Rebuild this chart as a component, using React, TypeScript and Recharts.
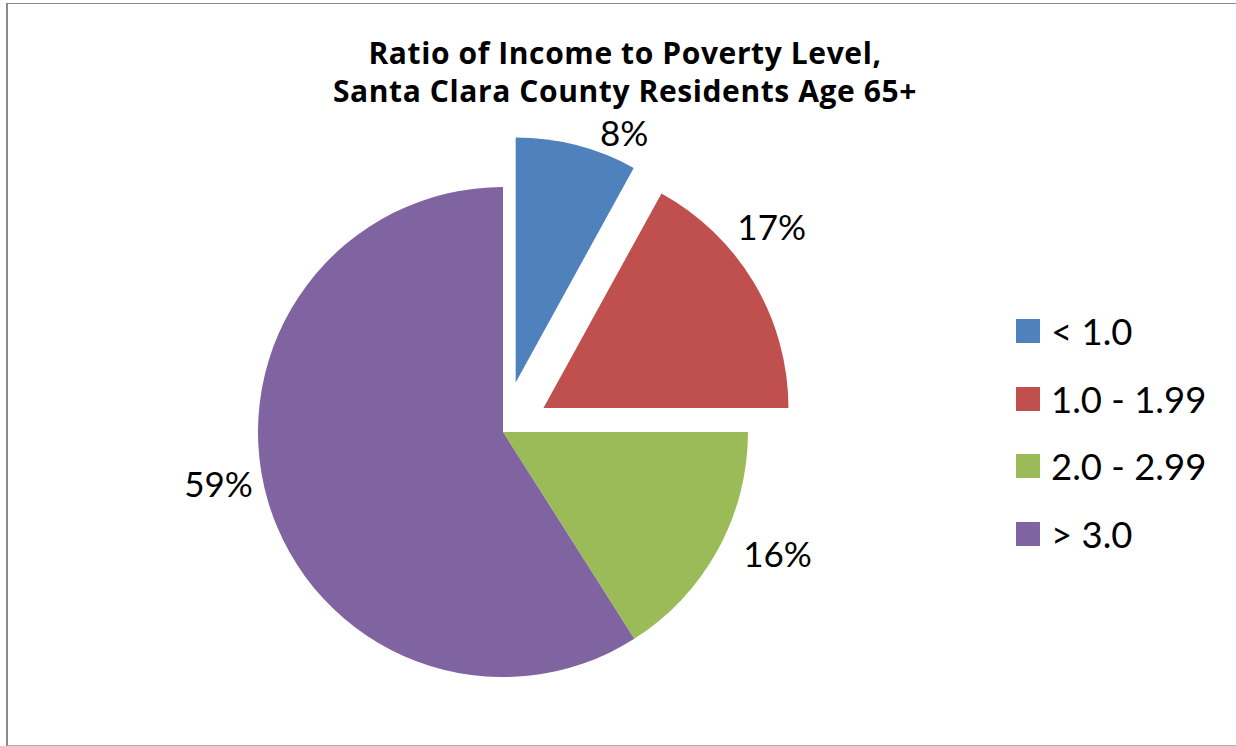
import React from 'react';
import { PieChart, Pie, Cell, Legend, Sector } from 'recharts';

const categories = ['< 1.0', '1.0 - 1.99', '2.0 - 2.99', '> 3.0'];
const shares = [8, 17, 16, 59];
const colors = ['#4F81BD', '#C0504D', '#9BBB59', '#8064A2'];
// how far each slice is pulled out of the pie, px
const explode = [51, 47, 0, 0];
// percent label placement, like Excel's best fit: gap past the rim and angle nudge (deg)
const labelGap = [28, 47, 55, 44];
const labelNudge = [-9, 8, 5, -6];

const data = categories.map((name, i) => ({ name, value: shares[i] }));

const RADIAN = Math.PI / 180;
const FONT = 'Lato, "Open Sans", sans-serif';

const ExplodedSector = (props: any) => {
  const i = categories.indexOf(props.payload?.name ?? props.name);
  const d = explode[i] || 0;
  const cx = props.cx + d * Math.cos(-props.midAngle * RADIAN);
  const cy = props.cy + d * Math.sin(-props.midAngle * RADIAN);
  return <Sector {...props} cx={cx} cy={cy} stroke="none" />;
};

const renderLabel = (props: any) => {
  const { cx, cy, midAngle, outerRadius, index, value } = props;
  const d = explode[index] || 0;
  const ox = cx + d * Math.cos(-midAngle * RADIAN);
  const oy = cy + d * Math.sin(-midAngle * RADIAN);
  const a = (midAngle + labelNudge[index]) * RADIAN;
  const r = outerRadius + labelGap[index];
  return (
    <text
      x={ox + r * Math.cos(-a)}
      y={oy + r * Math.sin(-a)}
      textAnchor="middle"
      dominantBaseline="central"
      fontFamily={FONT}
      fontSize={35}
      fill="#000"
    >
      {`${value}%`}
    </text>
  );
};

const renderLegend = () => (
  <div style={{ fontFamily: FONT }}>
    {categories.map((c, i) => (
      <div key={c} style={{ display: 'flex', alignItems: 'center', height: 67.7 }}>
        <span style={{ width: 24, height: 24, background: colors[i], marginRight: 11 }} />
        <span style={{ fontSize: 36.5, color: '#000' }}>{c}</span>
      </div>
    ))}
  </div>
);

export default function App() {
  return (
    <div style={{ position: 'absolute', left: 0, top: 0, width: 1236, height: 746, overflow: 'hidden', background: '#fff' }}>
      <div
        style={{
          position: 'absolute',
          left: 6,
          top: 3,
          width: 1240,
          height: 741,
          borderLeft: '2px solid #8a8a8a',
          borderTop: '1px solid #8a8a8a',
          borderBottom: '1px solid #b0b0b0',
        }}
      />
      <div
        style={{
          position: 'absolute',
          left: 0,
          top: 34,
          width: 1250,
          textAlign: 'center',
          fontFamily: '"Open Sans", Lato, sans-serif',
          fontWeight: 700,
          fontSize: 30,
          letterSpacing: 0.6,
          lineHeight: '38px',
          color: '#000',
        }}
      >
        Ratio of Income to Poverty Level,
        <br />
        Santa Clara County Residents Age 65+
      </div>
      <PieChart width={1236} height={746} margin={{ top: 0, right: 0, bottom: 0, left: 0 }} style={{ position: 'absolute', left: 0, top: 0 }}>
        <Pie
          data={data}
          dataKey="value"
          nameKey="name"
          cx={503}
          cy={432}
          outerRadius={245}
          startAngle={90}
          endAngle={-270}
          isAnimationActive={false}
          labelLine={false}
          label={renderLabel}
          shape={ExplodedSector}
          activeShape={ExplodedSector}
          inactiveShape={ExplodedSector}
        >
          {data.map((d, i) => (
            <Cell key={d.name} fill={colors[i]} />
          ))}
        </Pie>
        <Legend
          layout="vertical"
          align="right"
          verticalAlign="middle"
          content={renderLegend}
          wrapperStyle={{ position: 'absolute', left: 1016, top: 297, width: 220 }}
        />
      </PieChart>
    </div>
  );
}
